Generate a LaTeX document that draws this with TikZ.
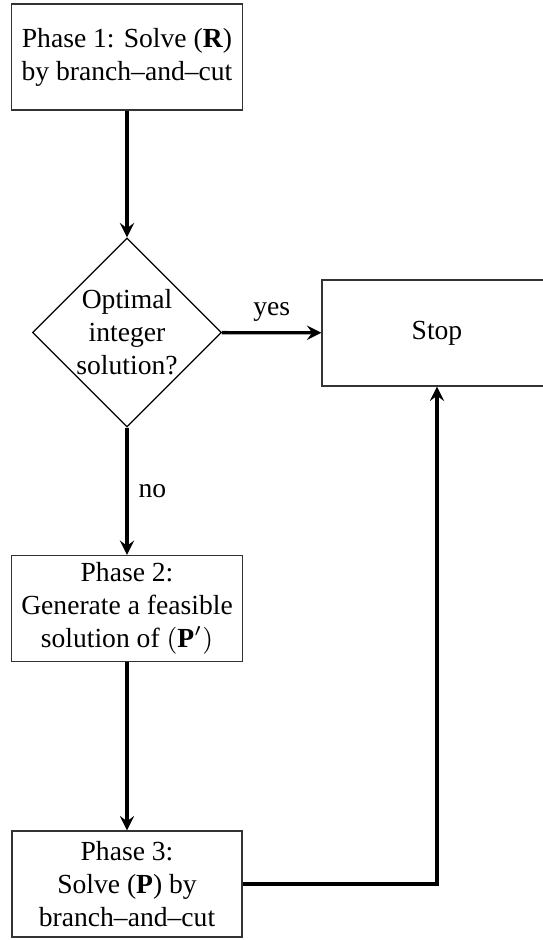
\documentclass[tikz,border=0pt]{standalone}
\usepackage{fontspec}
\setmainfont{Liberation Serif}
\usetikzlibrary{shapes.geometric}

\begin{document}
\begin{tikzpicture}[
font=\fontsize{9.2}{11}\selectfont,
phasebox/.style={rectangle, draw=black!80, align=center, minimum width=76.67pt, minimum height=35.33pt, inner ysep=1pt},
decision/.style={diamond, draw=black, align=center, aspect=1, minimum width=63pt, minimum height=63pt, inner sep=0pt},
]
\useasboundingbox (0,0) rectangle (6.350,-11.012);
%Nodes
\node[phasebox]  at (1.488,-0.668)  (phaseA) {Phase 1: Solve (\textbf{R})\\by branch--and--cut};
\node[decision]  at (1.488,-3.895)  (check)  {Optimal\\integer\\solution?};
\node[phasebox]  at (5.119,-3.901)  (stop)   {Stop};
\node[phasebox]  at (1.488,-7.129)  (phaseB) {Phase 2:\\Generate a feasible\\solution of $(\mathbf{P}')$};
\node[phasebox]  at (1.488,-10.356) (phaseC) {Phase 3:\\Solve (\textbf{P}) by\\branch--and--cut};
%Lines
\path[-stealth,draw,line width=1.1pt] (phaseA) edge (check);
\path[-stealth,draw,line width=1.1pt] (check) edge node[above] {yes} (stop);
\path[-stealth,draw,line width=1.1pt] (check) edge node[right] {no} (phaseB);
\path[-stealth,draw,line width=1.1pt] (phaseB) edge (phaseC);
\draw[-stealth,line width=1.1pt] (phaseC) -| (stop);
\end{tikzpicture}
\end{document}
